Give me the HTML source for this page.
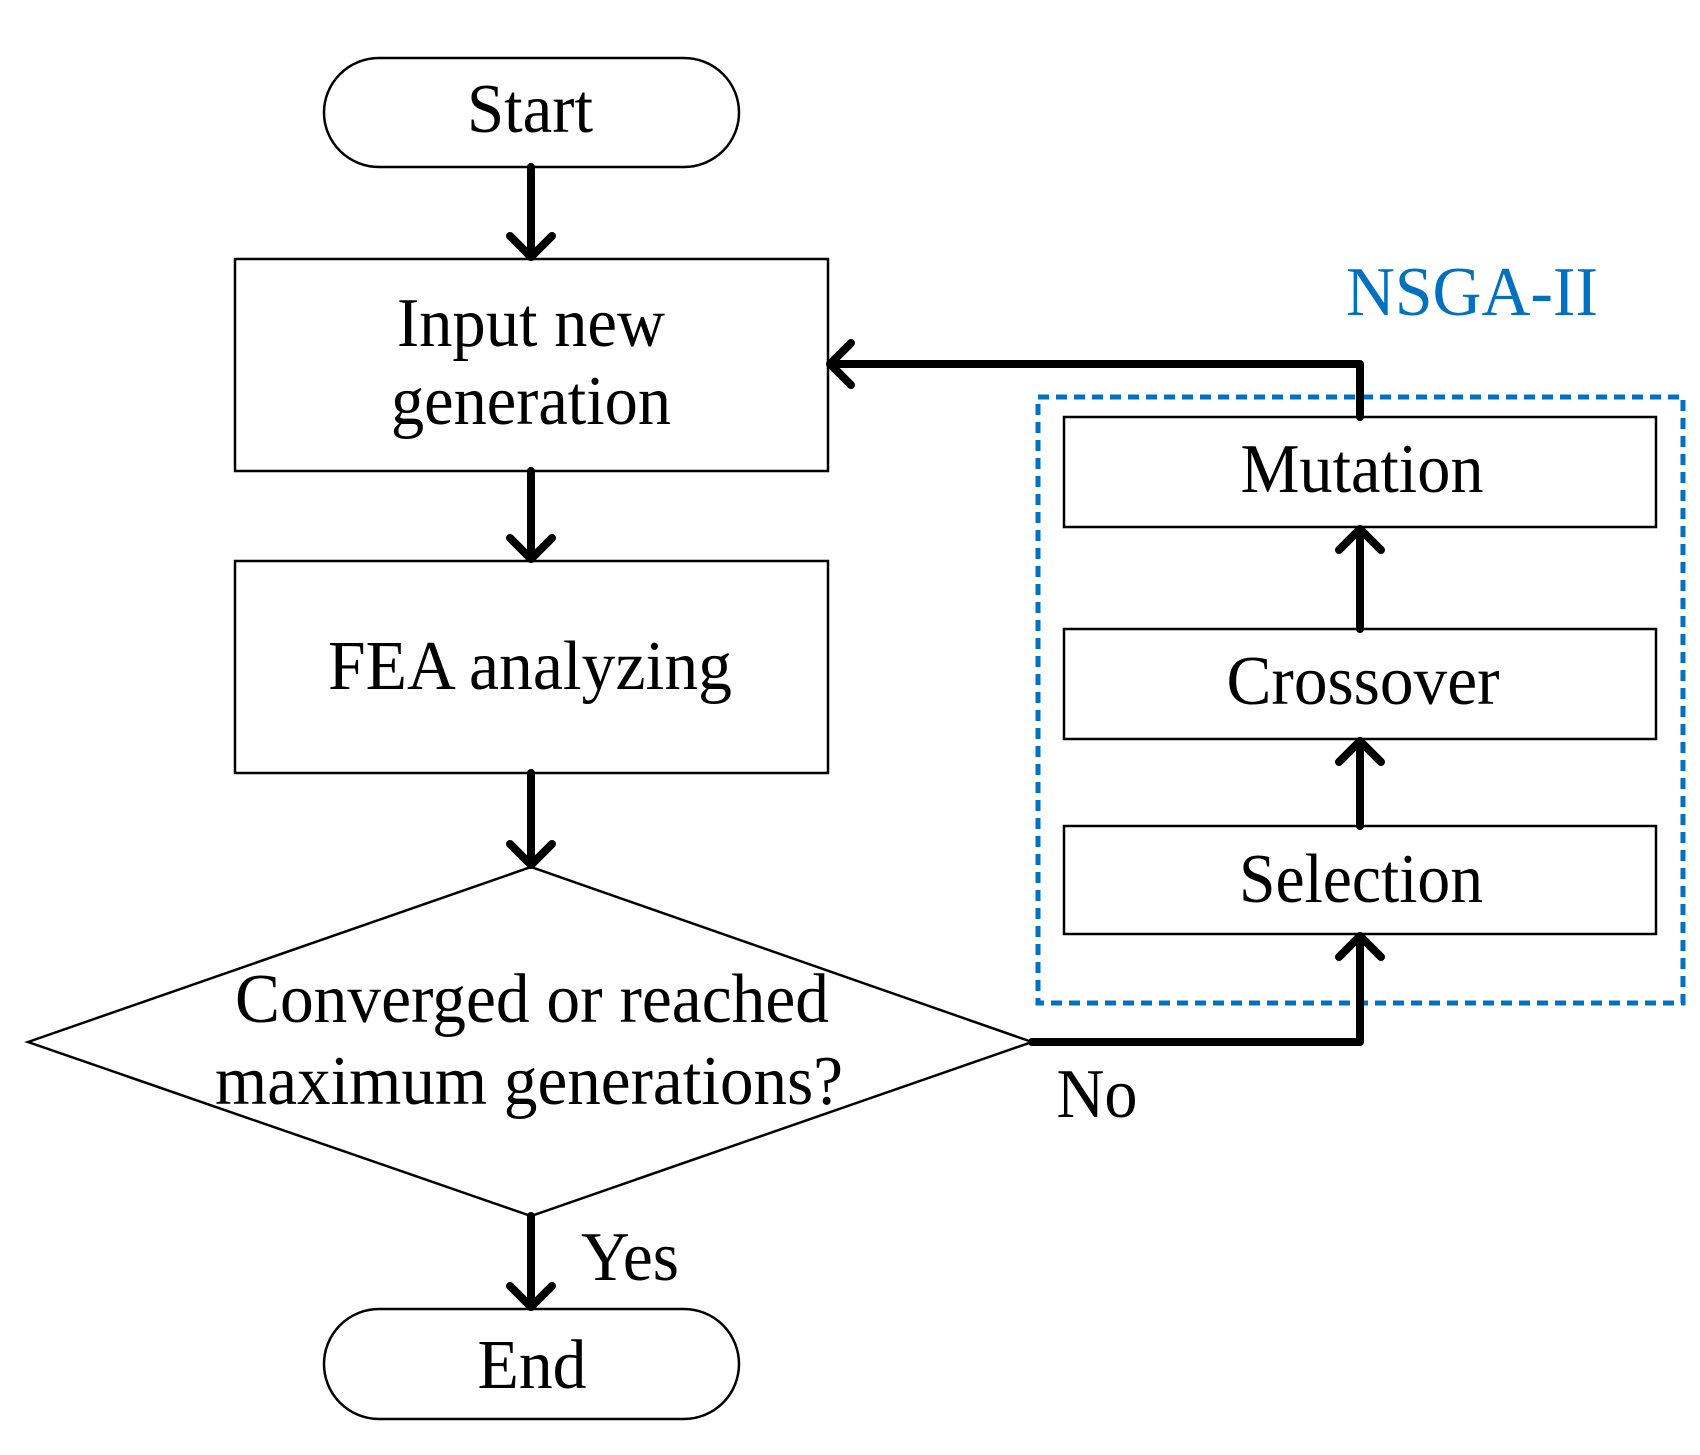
<!DOCTYPE html>
<html><head><style>html,body{margin:0;padding:0;background:#fff}svg{display:block}</style></head>
<body>
<svg width="1700" height="1455" viewBox="0 0 1700 1455" xmlns="http://www.w3.org/2000/svg" font-family="'Liberation Serif', serif" font-size="70">
<rect width="1700" height="1455" fill="#fff"/>
<g transform="translate(-2,-2)">
<g fill="none" stroke="#000" stroke-width="2.5">
<rect x="326" y="60" width="415" height="109" rx="55"/>
<rect x="237" y="261" width="593" height="212"/>
<rect x="237" y="563" width="593" height="212"/>
<polygon points="30,1044 533,869 1034,1044 533,1218"/>
<rect x="326" y="1311" width="415" height="110" rx="55"/>
<rect x="1066" y="419" width="592" height="110"/>
<rect x="1066" y="631" width="592" height="110"/>
<rect x="1066" y="828" width="592" height="108"/>
</g>
<rect x="1040" y="399" width="645" height="606" fill="none" stroke="#0070C0" stroke-width="5" stroke-dasharray="11,7"/>
<g fill="none" stroke="#000" stroke-width="8" stroke-linecap="round" stroke-linejoin="round">
<line x1="533" y1="169" x2="533" y2="259"/><polyline points="512,238 533,259 554,238"/>
<line x1="533" y1="473" x2="533" y2="561"/><polyline points="512,540 533,561 554,540"/>
<line x1="533" y1="775" x2="533" y2="867"/><polyline points="512,846 533,867 554,846"/>
<line x1="533" y1="1218" x2="533" y2="1309"/><polyline points="512,1288 533,1309 554,1288"/>
<polyline points="1034,1044 1362,1044 1362,938"/><polyline points="1341,959 1362,938 1383,959"/>
<line x1="1362" y1="631" x2="1362" y2="531"/><polyline points="1341,552 1362,531 1383,552"/>
<line x1="1362" y1="828" x2="1362" y2="743"/><polyline points="1341,764 1362,743 1383,764"/>
<polyline points="1362,419 1362,366 832,366"/><polyline points="853,345 832,366 853,387"/>
</g>
<g fill="#000" text-anchor="middle">
<text x="532" y="134" textLength="126" lengthAdjust="spacingAndGlyphs">Start</text>
<text x="533" y="348" textLength="268" lengthAdjust="spacingAndGlyphs">Input new</text>
<text x="533" y="426" textLength="280" lengthAdjust="spacingAndGlyphs">generation</text>
<text x="532" y="691" textLength="404" lengthAdjust="spacingAndGlyphs">FEA analyzing</text>
<text x="534" y="1024" textLength="594" lengthAdjust="spacingAndGlyphs">Converged or reached</text>
<text x="531" y="1106" textLength="628" lengthAdjust="spacingAndGlyphs">maximum generations?</text>
<text x="534" y="1390" textLength="109" lengthAdjust="spacingAndGlyphs">End</text>
<text x="632" y="1282" textLength="98" lengthAdjust="spacingAndGlyphs">Yes</text>
<text x="1099" y="1119" textLength="81" lengthAdjust="spacingAndGlyphs">No</text>
<text x="1364" y="494" textLength="243" lengthAdjust="spacingAndGlyphs">Mutation</text>
<text x="1365" y="706" textLength="273" lengthAdjust="spacingAndGlyphs">Crossover</text>
<text x="1363" y="904" textLength="244" lengthAdjust="spacingAndGlyphs">Selection</text>
<text x="1474" y="317" fill="#0070C0" textLength="252" lengthAdjust="spacingAndGlyphs">NSGA-II</text>
</g>
</g>
</svg>
</body></html>
